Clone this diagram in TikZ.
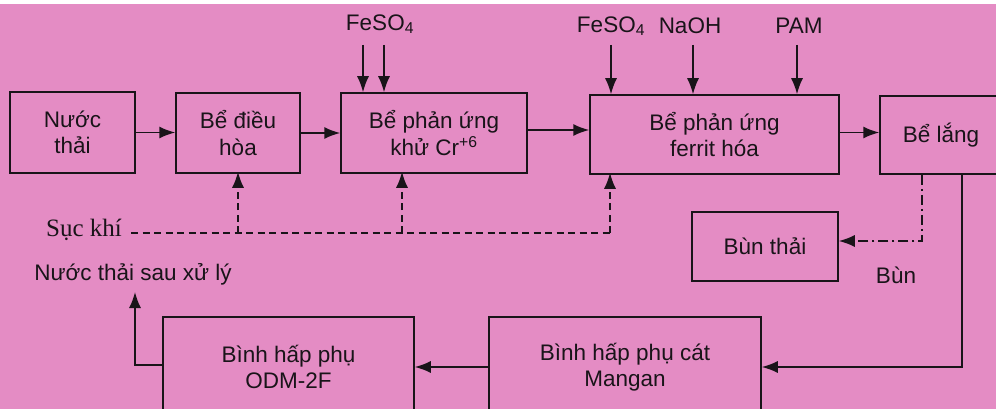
\documentclass[tikz,border=0pt]{standalone}
\usepackage{fontspec}
\setmainfont{Liberation Sans}
\newfontfamily\serifface{Liberation Serif}
\usetikzlibrary{arrows.meta}
\definecolor{bgpink}{RGB}{228,140,196}
\definecolor{ink}{RGB}{25,20,25}
\begin{document}
\begin{tikzpicture}[x=1pt,y=-1pt,
  box/.style={draw=ink,line width=1.5pt,align=center,inner sep=0pt,
    font=\fontsize{22.5}{26.5}\selectfont,text=ink},
  lbl/.style={inner sep=0pt,font=\fontsize{22.5}{26.5}\selectfont,text=ink},
  tip/.style={-{Latex[length=16pt,width=12pt]}},
  arr/.style={draw=ink,line width=1.6pt,tip},
  dsh/.style={draw=ink,line width=1.6pt,dash pattern=on 7pt off 4.5pt},
  dshd/.style={draw=ink,line width=1.6pt,dash pattern=on 10pt off 4pt on 2pt off 4pt}]
\useasboundingbox (0,0) rectangle (996,409);
\fill[bgpink] (0,4) rectangle (996,409);
\fill[white] (0,0) rectangle (996,4);
% boxes
\node[box,minimum width=125,minimum height=81] (nuoc) at (72.5,132.5) {Nước\\thải};
\node[box,minimum width=124,minimum height=80] (dieuhoa) at (238,133) {Bể điều\\hòa};
\node[box,minimum width=186,minimum height=80] (cr) at (434,133) {Bể phản ứng\\khử Cr\textsuperscript{+6}};
\node[box,minimum width=249,minimum height=79] (ferrit) at (714.5,134.5) {Bể phản ứng\\ferrit hóa};
\node[box,minimum width=122,minimum height=78] (lang) at (941,135) {Bể lắng};
\node[box,minimum width=146,minimum height=69] (bun) at (765,246.5) {Bùn thải};
\node[box,minimum width=272,minimum height=100] (mangan) at (625,367) {Bình hấp phụ cát\\Mangan};
\node[box,minimum width=251,minimum height=100] (odm) at (288.5,367) {Bình hấp phụ\\ODM-2F};
% labels
\node[lbl] (fe1) at (380,24) {FeSO\textsubscript{4}};
\node[lbl] (fe2) at (611,26) {FeSO\textsubscript{4}};
\node[lbl] (naoh) at (690,26) {NaOH};
\node[lbl] (pam) at (799,26) {PAM};
\node[lbl,font=\serifface\fontsize{25}{28}\selectfont] (suc) at (84,230) {Sục khí};
\node[lbl] (out) at (133,274) {Nước thải sau xử lý};
\node[lbl] (bunlbl) at (896,275) {Bùn};
% main flow
\draw[arr] (nuoc.east) -- (nuoc.east -| dieuhoa.west);
\draw[arr] (dieuhoa.east) -- (dieuhoa.east -| cr.west);
\draw[arr] ([yshift=3pt]cr.east) -- ([yshift=3pt]cr.east -| ferrit.west);
\draw[arr] ([yshift=2pt]ferrit.east) -- ([yshift=2pt]ferrit.east -| lang.west);
% chemical inputs
\coordinate (a1) at (363,45);
\coordinate (a2) at (384,45);
\coordinate (a3) at (611,45);
\coordinate (a4) at (693,45);
\coordinate (a5) at (797,45);
\draw[arr] (a1) -- (a1 |- cr.north);
\draw[arr] (a2) -- (a2 |- cr.north);
\draw[arr] (a3) -- (a3 |- ferrit.north);
\draw[arr] (a4) -- (a4 |- ferrit.north);
\draw[arr] (a5) -- (a5 |- ferrit.north);
% aeration
\coordinate (s0) at (131,233);
\coordinate (s1) at (238,233);
\coordinate (s2) at (402,233);
\coordinate (s3) at (610,233);
\draw[dsh] (s0) -- (s3);
\draw[dsh,tip] (s1) -- ([yshift=2pt]s1 |- dieuhoa.south);
\draw[dsh,tip] (s2) -- ([yshift=2pt]s2 |- cr.south);
\draw[dsh,tip] (s3) -- ([yshift=2pt]s3 |- ferrit.south);
% sludge
\coordinate (b1) at (922,241);
\draw[dshd,tip] (b1 |- lang.south) -- (b1) -- (b1 -| bun.east);
% water to adsorbers
\coordinate (m1) at (962,367);
\draw[arr] (m1 |- lang.south) -- (m1) -- (m1 -| mangan.east);
\draw[arr] (mangan.west) -- (mangan.west -| odm.east);
\coordinate (o1) at (135,365);
\coordinate (o2) at (135,292);
\draw[arr] (o1 -| odm.west) -- (o1) -- (o2);
\end{tikzpicture}
\end{document}
